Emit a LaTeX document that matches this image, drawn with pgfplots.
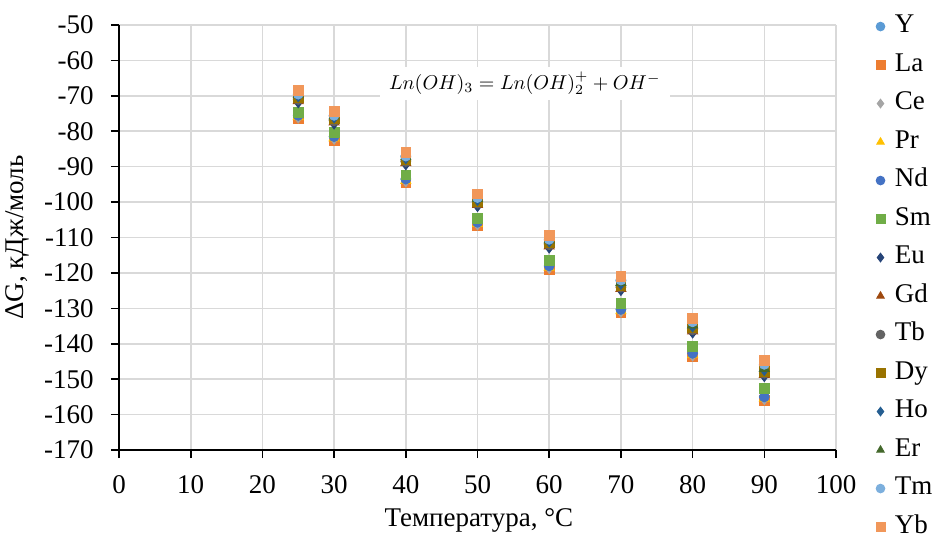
\documentclass[border=0pt]{standalone}
\usepackage{pgfplots}
\usepackage{pgfplotstable}
\pgfplotsset{compat=1.18}
\usepackage{fontspec}
\setmainfont{Liberation Serif}
\definecolor{cY}{HTML}{5B9BD5}
\definecolor{cLa}{HTML}{ED7D31}
\definecolor{cCe}{HTML}{A5A5A5}
\definecolor{cPr}{HTML}{FFC000}
\definecolor{cNd}{HTML}{4472C4}
\definecolor{cSm}{HTML}{70AD47}
\definecolor{cEu}{HTML}{264478}
\definecolor{cGd}{HTML}{9E480E}
\definecolor{cTb}{HTML}{636363}
\definecolor{cDy}{HTML}{997300}
\definecolor{cHo}{HTML}{255E91}
\definecolor{cEr}{HTML}{43682B}
\definecolor{cTm}{HTML}{7CAFDD}
\definecolor{cYb}{HTML}{F1975A}
\definecolor{gridc}{HTML}{D9D9D9}
\pgfplotstableread{
T   Y      La     Ce     Pr     Nd     Sm     Eu     Gd     Tb     Dy     Ho     Er     Tm     Yb
25  -69.7  -76.5  -76.1  -75.9  -75.5  -74.6  -71.8  -71.4  -71.0  -70.5  -70.1  -69.7  -69.5  -68.5
30  -75.7  -82.5  -82.1  -81.9  -81.5  -80.3  -77.8  -77.4  -77.0  -76.5  -76.1  -75.7  -75.5  -74.5
40  -87.2  -94.5  -94.1  -93.9  -93.5  -92.3  -89.3  -88.9  -88.5  -88.0  -87.6  -87.2  -87.0  -86.0
50  -98.9  -106.7 -106.3 -106.1 -105.7 -104.5 -101.1 -100.7 -100.3 -99.8  -99.4  -99.0  -98.7  -97.7
60  -110.7 -119.0 -118.6 -118.4 -118.0 -116.5 -112.8 -112.4 -112.0 -111.5 -111.1 -110.7 -110.5 -109.5
70  -122.2 -131.3 -130.9 -130.7 -130.3 -128.5 -124.8 -124.4 -124.0 -123.5 -123.1 -122.7 -122.0 -121.0
80  -134.0 -143.7 -143.3 -143.1 -142.7 -140.8 -136.8 -136.4 -136.0 -135.5 -135.1 -134.7 -133.8 -132.8
90  -146.0 -156.0 -155.6 -155.4 -155.0 -152.7 -149.1 -148.7 -148.3 -147.8 -147.4 -147.0 -145.8 -144.8
}\data
\begin{document}
\fontsize{13.5}{16}\selectfont
\begin{tikzpicture}
\path[use as bounding box] (-59.5pt,-44pt) rectangle (410.5pt,225pt);
\begin{axis}[
  at={(0pt,0pt)}, anchor=south west,
  scale only axis, width=358.5pt, height=212.5pt,
  xmin=0, xmax=100, ymin=-170, ymax=-50,
  xtick={0,10,...,100}, ytick={-170,-160,...,-50},
  axis x line*=bottom, axis y line*=left,
  axis line style={black, line width=0.8pt},
  grid=major, major grid style={gridc, line width=0.8pt},
  tick align=outside, major tick length=4pt,
  tick style={black, line width=0.8pt},
  /pgf/number format/assume math mode=true,
  yticklabel style={xshift=-4pt, font=\fontsize{13.5}{16}\selectfont},
  xticklabel style={yshift=-4pt, font=\fontsize{13.5}{16}\selectfont},
  xlabel={Температура, °C},
  ylabel={ΔG, кДж/моль},
  xlabel style={at={(axis description cs:0.502,-0.165)}, anchor=center, font=\fontsize{13.5}{16}\selectfont},
  ylabel style={at={(axis description cs:-0.141,0.5)}, anchor=center, font=\fontsize{13.5}{16}\selectfont},
  clip=false,
  legend style={at={(1.047,1.035)}, anchor=north west, draw=none, fill=none,
    font=\fontsize{13.5}{16}\selectfont, row sep=7.25pt,
    nodes={inner sep=1pt, text height=8pt, text depth=2pt},
    /tikz/every odd column/.append style={column sep=4pt}},
  legend cell align=left,
  legend image code/.code={\draw[mark size=2.2pt] plot coordinates {(0.1cm,0cm)};},
  every axis plot/.append style={only marks},
]
\node[fill=white, minimum width=145pt, minimum height=16.5pt, inner sep=0pt, font=\fontsize{10}{12}\selectfont] at (axis cs:56.6,-66.5)
  {$Ln(OH)_3 = Ln(OH)_2^{+} + OH^{-}$};
\addplot[mark=*, mark size=2.5pt, draw=cY, fill=cY] table[x=T,y=Y]{\data};
\addlegendentry{Y}
\addplot[mark=square*, mark size=2.45pt, draw=cLa, fill=cLa] table[x=T,y=La]{\data};
\addlegendentry{La}
\addplot[mark=diamond*, mark size=2.8pt, draw=cCe, fill=cCe] table[x=T,y=Ce]{\data};
\addlegendentry{Ce}
\addplot[mark=triangle*, mark size=2.9pt, draw=cPr, fill=cPr] table[x=T,y=Pr]{\data};
\addlegendentry{Pr}
\addplot[mark=*, mark size=2.5pt, draw=cNd, fill=cNd] table[x=T,y=Nd]{\data};
\addlegendentry{Nd}
\addplot[mark=square*, mark size=2.45pt, draw=cSm, fill=cSm] table[x=T,y=Sm]{\data};
\addlegendentry{Sm}
\addplot[mark=diamond*, mark size=2.8pt, draw=cEu, fill=cEu] table[x=T,y=Eu]{\data};
\addlegendentry{Eu}
\addplot[mark=triangle*, mark size=2.9pt, draw=cGd, fill=cGd] table[x=T,y=Gd]{\data};
\addlegendentry{Gd}
\addplot[mark=*, mark size=2.5pt, draw=cTb, fill=cTb] table[x=T,y=Tb]{\data};
\addlegendentry{Tb}
\addplot[mark=square*, mark size=2.45pt, draw=cDy, fill=cDy] table[x=T,y=Dy]{\data};
\addlegendentry{Dy}
\addplot[mark=diamond*, mark size=2.8pt, draw=cHo, fill=cHo] table[x=T,y=Ho]{\data};
\addlegendentry{Ho}
\addplot[mark=triangle*, mark size=2.9pt, draw=cEr, fill=cEr] table[x=T,y=Er]{\data};
\addlegendentry{Er}
\addplot[mark=*, mark size=2.5pt, draw=cTm, fill=cTm] table[x=T,y=Tm]{\data};
\addlegendentry{Tm}
\addplot[mark=square*, mark size=2.45pt, draw=cYb, fill=cYb] table[x=T,y=Yb]{\data};
\addlegendentry{Yb}
\end{axis}
\end{tikzpicture}
\end{document}
